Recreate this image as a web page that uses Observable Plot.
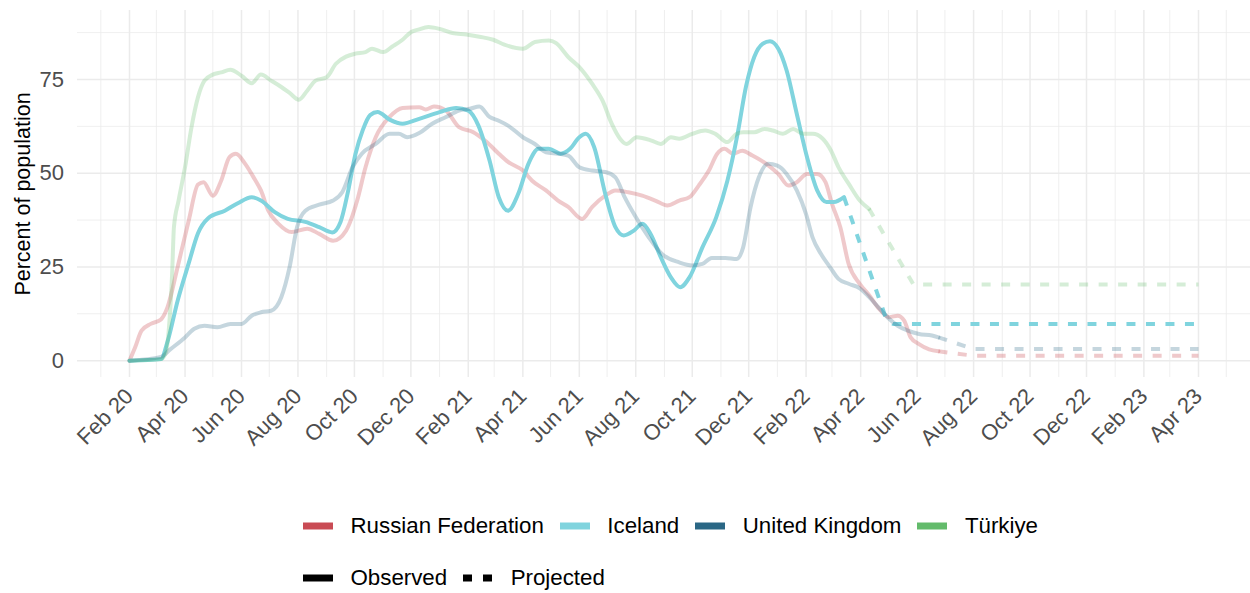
<!DOCTYPE html>
<html>
<head>
<meta charset="utf-8">
<script src="https://cdn.jsdelivr.net/npm/d3@7"></script>
<script src="https://cdn.jsdelivr.net/npm/@observablehq/plot@0.6"></script>
<style>
  html, body { margin: 0; padding: 0; background: #fff; }
  body { width: 1250px; height: 593px; overflow: hidden; font-family: "Liberation Sans", Arial, sans-serif; }
  #legend { position: relative; width: 1250px; height: 113px; }
  .row { position: absolute; left: 303px; display: flex; align-items: center; height: 26px; font-size: 22.3px; color: #000; white-space: nowrap; }
  .row svg { display: block; margin-right: 17.5px; }
  .row span { margin-right: 16px; }
</style>
</head>
<body>
<div id="chart"></div>
<div id="legend"></div>
<script>
// ---------- data ----------
const countries = ["Russian Federation", "Iceland", "United Kingdom", "Türkiye"];
const colors = ["#c94b54", "#80d4de", "#2a6785", "#63bb6b"];
const lineOpacity = [0.3, 1, 0.27, 0.27];

const russiaObserved = [["2020-02-01",0],["2020-02-07",3.5],["2020-02-14",8],["2020-02-24",9.8],["2020-03-06",11],["2020-03-13",14.2],["2020-03-24",25],["2020-04-05",37.4],["2020-04-15",47],["2020-04-21",47.6],["2020-05-01",44],["2020-05-10",48],["2020-05-19",54.3],["2020-05-26",55.2],["2020-06-05",52.5],["2020-06-15",48.5],["2020-06-22",45.4],["2020-06-30",40],["2020-07-11",36.5],["2020-07-25",34.3],["2020-08-11",35.2],["2020-08-24",33.8],["2020-09-08",32],["2020-09-22",34.7],["2020-10-04",42.7],["2020-10-13",51.6],["2020-10-24",59.6],["2020-11-08",65],["2020-11-22",67.4],["2020-12-10",67.6],["2020-12-17",67],["2020-12-26",67.8],["2021-01-08",66.7],["2021-01-22",62.3],["2021-02-06",61],["2021-02-20",58.5],["2021-03-06",55.2],["2021-03-16",53],["2021-04-01",50.7],["2021-04-11",48],["2021-04-26",45.4],["2021-05-09",42.7],["2021-05-20",41],["2021-06-04",37.8],["2021-06-15",41],["2021-06-29",44],["2021-07-10",45.4],["2021-07-24",44.9],["2021-08-08",44],["2021-08-22",42.7],["2021-09-04",41.4],["2021-09-17",42.7],["2021-09-28",43.6],["2021-10-08",46.7],["2021-10-19",50.7],["2021-10-28",55.2],["2021-11-05",56.5],["2021-11-14",55.2],["2021-11-24",56],["2021-12-05",54.7],["2021-12-20",52.5],["2022-01-02",49.8],["2022-01-13",46.7],["2022-01-22",47.6],["2022-02-02",49.8],["2022-02-13",49.8],["2022-02-22",47.6],["2022-03-01",41.8],["2022-03-10",35.6],["2022-03-19",25.8],["2022-03-31",20.5],["2022-04-10",17.5],["2022-04-21",13.8],["2022-05-02",11.6],["2022-05-11",12],["2022-05-18",10.7],["2022-05-25",6.2],["2022-06-03",4.4],["2022-06-14",3],["2022-06-24",2.5]];
const russiaProjected = [["2022-06-24",2.5],["2022-08-01",1.3],["2023-04-01",1.3]];

const icelandObserved = [["2020-02-01",0],["2020-03-06",0.4],["2020-03-13",5],["2020-03-24",16],["2020-04-05",26],["2020-04-15",34],["2020-04-26",38],["2020-05-14",40],["2020-05-28",42],["2020-06-12",43.6],["2020-06-22",42.7],["2020-07-07",39.6],["2020-07-21",37.8],["2020-08-09",37],["2020-08-24",35.6],["2020-09-07",34.2],["2020-09-16",37],["2020-09-24",45],["2020-10-02",55],["2020-10-10",61.5],["2020-10-18",65.5],["2020-10-26",66.3],["2020-11-08",64.3],["2020-11-22",63.2],["2020-12-10",64.5],["2021-01-01",66.3],["2021-01-19",67.4],["2021-02-01",66.7],["2021-02-12",62.7],["2021-02-24",53.4],["2021-03-06",43.6],["2021-03-16",40],["2021-03-27",44.5],["2021-04-07",52.5],["2021-04-18",56.5],["2021-04-29",56.5],["2021-05-12",55.2],["2021-05-22",56.5],["2021-06-01",59.6],["2021-06-08",60.5],["2021-06-17",57],["2021-06-29",44.5],["2021-07-10",35.6],["2021-07-19",33.4],["2021-07-30",34.7],["2021-08-08",36.5],["2021-08-17",33.8],["2021-08-28",27.6],["2021-09-08",22.2],["2021-09-18",19.6],["2021-09-28",22.2],["2021-10-12",30.2],["2021-10-27",38.3],["2021-11-08",48],["2021-11-19",60.5],["2021-11-28",73],["2021-12-07",81],["2021-12-16",84.5],["2021-12-24",85.2],["2022-01-02",83.2],["2022-01-11",77.4],["2022-01-22",65.8],["2022-02-02",54.3],["2022-02-13",45.4],["2022-02-23",42.3],["2022-03-03",42.3],["2022-03-14",43.6]];
const icelandProjected = [["2022-03-14",43.6],["2022-04-28",11.5],["2022-05-06",9.8],["2023-04-01",9.8]];

const ukObserved = [["2020-02-01",0],["2020-03-06",1],["2020-03-16",3],["2020-04-01",6.2],["2020-04-11",8.5],["2020-04-22",9.3],["2020-05-06",8.9],["2020-05-20",9.8],["2020-06-01",9.8],["2020-06-12",12],["2020-06-22",12.9],["2020-07-03",13.3],["2020-07-14",16.9],["2020-07-23",25],["2020-07-31",35.6],["2020-08-09",40],["2020-08-24",41.6],["2020-09-08",42.7],["2020-09-18",45],["2020-09-29",51.6],["2020-10-09",55.2],["2020-10-24",57.8],["2020-11-08",60.5],["2020-11-18",60.5],["2020-11-27",59.6],["2020-12-10",60.7],["2020-12-24",63.2],["2021-01-08",65],["2021-01-22",66.7],["2021-02-03",67.2],["2021-02-13",67.8],["2021-02-24",65],["2021-03-06",64],["2021-03-16",62.7],["2021-04-01",59.6],["2021-04-14",57.8],["2021-04-26",55.6],["2021-05-09",55.2],["2021-05-20",54.7],["2021-06-01",51.6],["2021-06-15",50.7],["2021-06-29",50.3],["2021-07-10",48.9],["2021-07-20",43.6],["2021-08-01",38.3],["2021-08-15",32.9],["2021-08-29",28.5],["2021-09-17",26.2],["2021-10-01",25.4],["2021-10-12",25.8],["2021-10-22",27.4],["2021-11-06",27.4],["2021-11-18",27.1],["2021-11-25",30.2],["2021-12-03",40.9],["2021-12-12",48.9],["2021-12-22",52.5],["2022-01-01",52],["2022-01-11",49.8],["2022-01-22",45.4],["2022-02-01",39.1],["2022-02-08",32.9],["2022-02-17",28.5],["2022-02-27",24.9],["2022-03-08",21.8],["2022-03-19",20.5],["2022-03-31",19.3],["2022-04-10",17],["2022-04-21",14],["2022-05-02",11.1],["2022-05-11",9.3],["2022-05-22",8],["2022-06-03",7.1],["2022-06-17",6.7],["2022-06-24",6.2]];
const ukProjected = [["2022-06-24",6.2],["2022-08-01",3.1],["2023-04-01",3.1]];

const turkiyeObserved = [["2020-02-01",0],["2020-03-06",0.4],["2020-03-11",2],["2020-03-14",7],["2020-03-18",23],["2020-03-20",35.6],["2020-03-25",42.7],["2020-04-01",51.6],["2020-04-08",62.3],["2020-04-15",70.3],["2020-04-22",74.7],["2020-05-01",76.3],["2020-05-10",76.9],["2020-05-20",77.6],["2020-06-01",76],["2020-06-12",74],["2020-06-22",76.3],["2020-07-03",74.7],["2020-07-14",73],["2020-07-23",71.4],["2020-08-02",69.6],["2020-08-11",72],["2020-08-20",74.7],["2020-09-01",75.6],["2020-09-11",79.2],["2020-09-22",81.1],["2020-10-02",81.9],["2020-10-13",82.3],["2020-10-20",83.2],["2020-11-01",82.3],["2020-11-11",83.8],["2020-11-22",85.6],["2020-12-01",87.6],["2020-12-09",88.3],["2020-12-20",89],["2021-01-01",88.5],["2021-01-15",87.4],["2021-01-30",87],["2021-02-13",86.4],["2021-02-28",85.6],["2021-03-12",84.3],["2021-04-01",83.2],["2021-04-14",85],["2021-04-29",85.4],["2021-05-07",84.7],["2021-05-20",81],["2021-06-01",78.3],["2021-06-15",73.8],["2021-06-26",69.4],["2021-07-06",63.2],["2021-07-15",59.2],["2021-07-22",57.8],["2021-08-02",59.6],["2021-08-18",58.7],["2021-08-28",57.8],["2021-09-08",59.6],["2021-09-17",59.2],["2021-10-01",60.5],["2021-10-15",61.4],["2021-10-26",60.5],["2021-11-08",58.3],["2021-11-18",60.5],["2021-11-25",60.9],["2021-12-07",60.9],["2021-12-18",61.8],["2021-12-27",61.4],["2022-01-07",60.5],["2022-01-18",61.8],["2022-01-29",60.5],["2022-02-08",60.5],["2022-02-19",59.2],["2022-02-28",56],["2022-03-08",51.6],["2022-03-19",47.2],["2022-03-31",42.7],["2022-04-10",40.5]];
const turkiyeProjected = [["2022-04-10",40.5],["2022-05-28",20.3],["2023-04-01",20.3]];

const xTickLabels = ["Feb 20","Apr 20","Jun 20","Aug 20","Oct 20","Dec 20","Feb 21","Apr 21","Jun 21","Aug 21","Oct 21","Dec 21","Feb 22","Apr 22","Jun 22","Aug 22","Oct 22","Dec 22","Feb 23","Apr 23"];
const xMinorLabels = ["Jan 20","Mar 20","May 20","Jul 20","Sep 20","Nov 20","Jan 21","Mar 21","May 21","Jul 21","Sep 21","Nov 21","Jan 22","Mar 22","May 22","Jul 22","Sep 22","Nov 22","Jan 23","Mar 23","May 23"];
const yTicks = [0, 25, 50, 75];
const yMinorTicks = [12.5, 37.5, 62.5, 87.5];
const yLabel = "Percent of population";
const statusLabels = ["Observed", "Projected"];

// ---------- build table ----------
const parseMonth = d3.utcParse("%b %y");
const majorDates = xTickLabels.map(parseMonth);
const minorDates = xMinorLabels.map(parseMonth);
const labelByTime = new Map(majorDates.map((d, i) => [+d, xTickLabels[i]]));

const observed = [russiaObserved, icelandObserved, ukObserved, turkiyeObserved];
const projected = [russiaProjected, icelandProjected, ukProjected, turkiyeProjected];
const toRows = (arr, country, status) => arr.map(([d, v]) => ({country, status, date: new Date(d + "T00:00:00Z"), value: v}));

const lineMarks = [];
countries.forEach((c, i) => {
  lineMarks.push(Plot.line(toRows(observed[i], c, "Observed"), {
    x: "date", y: "value", stroke: colors[i], strokeOpacity: lineOpacity[i],
    strokeWidth: 4, curve: "monotone-x"
  }));
  lineMarks.push(Plot.line(toRows(projected[i], c, "Projected"), {
    x: "date", y: "value", stroke: colors[i], strokeOpacity: lineOpacity[i],
    strokeWidth: 4, strokeDasharray: "9,10.5", strokeLinecap: "butt", curve: "linear"
  }));
});

const day = 864e5;
const xStart = new Date(+new Date("2020-02-01T00:00:00Z") - 56.2 * day);
const xEnd = new Date(+new Date("2023-04-01T00:00:00Z") + 56.2 * day);

const chart = Plot.plot({
  width: 1250,
  height: 480,
  marginLeft: 77,
  marginRight: 0,
  marginTop: 10,
  marginBottom: 103,
  style: {fontFamily: "'Liberation Sans', Arial, sans-serif", background: "#fff"},
  x: {type: "utc", domain: [xStart, xEnd]},
  y: {domain: [-4.5, 93.4]},
  marks: [
    Plot.gridX(minorDates, {stroke: "#ebebeb", strokeOpacity: 1, strokeWidth: 0.8}),
    Plot.gridX(majorDates, {stroke: "#ebebeb", strokeOpacity: 1, strokeWidth: 1.5}),
    Plot.gridY(yMinorTicks, {stroke: "#ebebeb", strokeOpacity: 1, strokeWidth: 0.8}),
    Plot.gridY(yTicks, {stroke: "#ebebeb", strokeOpacity: 1, strokeWidth: 1.5}),
    Plot.axisY({ticks: yTicks, tickSize: 0, tickPadding: 13.5, fontSize: 22, color: "#4d4d4d", label: null}),
    Plot.axisX({ticks: majorDates, tickFormat: d => labelByTime.get(+d), tickRotate: -45, tickSize: 0, tickPadding: 15, fontSize: 22, color: "#4d4d4d", label: null}),
    Plot.text([yLabel], {frameAnchor: "left", dx: -54.5, rotate: -90, fontSize: 21.5, fill: "#000", textAnchor: "middle", lineAnchor: "middle"}),
    ...lineMarks
  ]
});
document.getElementById("chart").appendChild(chart);

// ---------- legend ----------
const legend = document.getElementById("legend");
const row1 = document.createElement("div");
row1.className = "row"; row1.style.top = "33px";
countries.forEach((c, i) => {
  row1.insertAdjacentHTML("beforeend",
    `<svg width="30" height="8"><line x1="0" x2="30" y1="4" y2="4" stroke="${colors[i]}" stroke-width="7"/></svg><span>${c}</span>`);
});
legend.appendChild(row1);
const row2 = document.createElement("div");
row2.className = "row"; row2.style.top = "85px";
row2.insertAdjacentHTML("beforeend",
  `<svg width="30" height="8"><line x1="0" x2="30" y1="4" y2="4" stroke="#000" stroke-width="7"/></svg><span>${statusLabels[0]}</span>` +
  `<svg width="30" height="8"><line x1="0" x2="30" y1="4" y2="4" stroke="#000" stroke-width="7" stroke-dasharray="9,11"/></svg><span>${statusLabels[1]}</span>`);
legend.appendChild(row2);
</script>
</body>
</html>
